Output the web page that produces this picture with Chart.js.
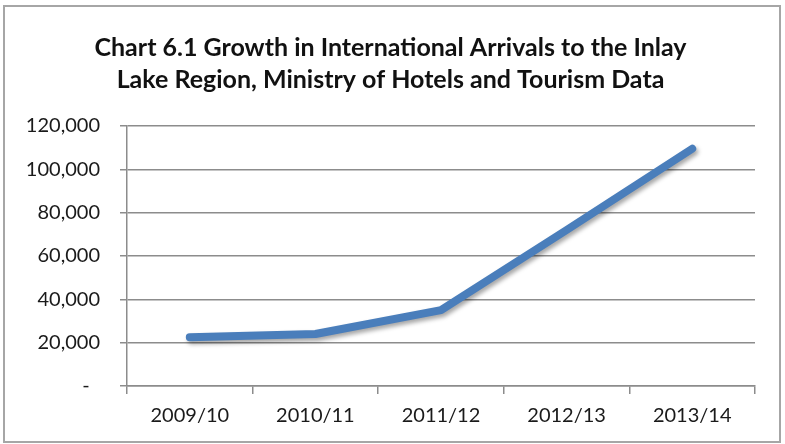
<!DOCTYPE html>
<html>
<head>
<meta charset="utf-8">
<script src="https://cdn.jsdelivr.net/npm/chart.js@4"></script>
<style>
  html, body { margin: 0; padding: 0; background: #fff; }
  #wrap { width: 785px; height: 444px; }
</style>
</head>
<body>
<div id="wrap"><canvas id="chart" width="785" height="444"></canvas></div>
<script>
const years = ['2009/10', '2010/11', '2011/12', '2012/13', '2013/14']
const arrivals = [22500, 24000, 35000, 72000, 109500]
const titleLines = [
  'Chart 6.1 Growth in International Arrivals to the Inlay',
  'Lake Region, Ministry of Hotels and Tourism Data'
]

// frame round the chart, like the Excel export
const framePlugin = {
  id: 'frame',
  afterDraw(chart) {
    const ctx = chart.ctx
    ctx.save()
    ctx.strokeStyle = '#a6a6a6'
    ctx.lineWidth = 2
    ctx.strokeRect(4, 6, 776, 436)
    ctx.restore()
  }
}

// soft drop shadow under the line
const shadowPlugin = {
  id: 'lineShadow',
  beforeDatasetDraw(chart) {
    const ctx = chart.ctx
    ctx.save()
    ctx.shadowColor = 'rgba(0,0,0,0.35)'
    ctx.shadowBlur = 4
    ctx.shadowOffsetX = 2
    ctx.shadowOffsetY = 3
  },
  afterDatasetDraw(chart) {
    chart.ctx.restore()
  }
}

new Chart(document.getElementById('chart'), {
  type: 'line',
  data: {
    labels: years,
    datasets: [{
      data: arrivals,
      borderColor: '#4a7ebb',
      borderWidth: 8,
      borderCapStyle: 'round',
      borderJoinStyle: 'round',
      pointRadius: 0,
      tension: 0
    }]
  },
  options: {
    responsive: false,
    animation: false,
    layout: { padding: { left: 26, right: 30, top: 6, bottom: 6 } },
    plugins: {
      legend: { display: false },
      tooltip: { enabled: false },
      title: {
        display: true,
        text: titleLines,
        color: '#111',
        font: { family: 'Lato', size: 25, weight: 'bold', lineHeight: 1.28 },
        padding: { top: 26, bottom: 30 }
      }
    },
    scales: {
      x: {
        offset: true,
        grid: {
          offset: true,
          drawOnChartArea: false,
          drawTicks: true,
          tickLength: 8,
          color: '#8c8c8c',
          lineWidth: 1.5
        },
        border: { color: '#8c8c8c', width: 1.5 },
        ticks: {
          color: '#1a1a1a',
          font: { family: 'Lato', size: 20 },
          padding: 10,
          maxRotation: 0
        }
      },
      y: {
        min: 0,
        max: 120000,
        afterFit(scale) { scale.width = 101 },
        grid: {
          color: '#8c8c8c',
          lineWidth: 1.5,
          tickLength: 7
        },
        border: { color: '#8c8c8c', width: 1.5 },
        ticks: {
          stepSize: 20000,
          color: '#1a1a1a',
          font: { family: 'Lato', size: 20 },
          padding: 20,
          callback: v => v === 0 ? '-  ' : v.toLocaleString('en-US')
        }
      }
    }
  },
  plugins: [shadowPlugin, framePlugin]
})
</script>
</body>
</html>
